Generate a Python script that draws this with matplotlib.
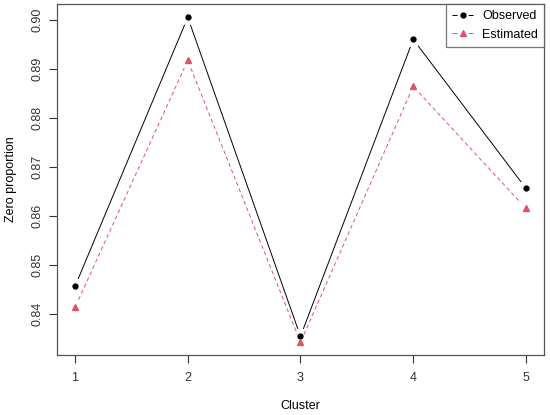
import matplotlib
matplotlib.use("Agg")
import matplotlib.pyplot as plt
import numpy as np
from matplotlib.lines import Line2D

# values
clusters = [1, 2, 3, 4, 5]
observed = [0.8457, 0.9006, 0.8355, 0.8961, 0.8657]
estimated = [0.8414, 0.8918, 0.8343, 0.8865, 0.8616]
y_ticks = [0.84, 0.85, 0.86, 0.87, 0.88, 0.89, 0.90]

RED = "#DF536B"
GAP = 8.5   # pixels left free round each point, like R type="b"
LW = 0.7

plt.rcParams["font.family"] = ["Liberation Sans", "DejaVu Sans"]

fig = plt.figure(figsize=(5.5, 4.15), dpi=100)
ax = fig.add_axes([0.1036, 0.1446, 0.8855, 0.8455])
ax.set_xlim(0.84, 5.16)
ax.set_ylim(0.8317, 0.9033)


def gapped_line(x, y, **kw):
    # draw the joins between points, stopped short of each point
    pts = ax.transData.transform(np.column_stack([x, y]))
    inv = ax.transData.inverted()
    for a, b in zip(pts[:-1], pts[1:]):
        d = b - a
        n = np.hypot(*d)
        if n <= 2 * GAP:
            continue
        u = d / n
        seg = inv.transform(np.array([a + u * GAP, b - u * GAP]))
        ax.plot(seg[:, 0], seg[:, 1], **kw)


gapped_line(clusters, observed, color="black", lw=LW)
gapped_line(clusters, estimated, color=RED, lw=LW, ls=(0, (4, 3)))
ax.plot(clusters, observed, ls="none", marker="o", ms=3.5, color="black")
ax.plot(clusters, estimated, ls="none", marker="^", ms=4.2, color=RED)

ax.set_xticks(clusters)
ax.set_yticks(y_ticks)
ax.set_yticklabels(["%.2f" % v for v in y_ticks], rotation=90, va="center")
ax.tick_params(direction="out", length=6, width=0.8, colors="#333333", labelsize=9, pad=6)
ax.tick_params(axis="y", pad=4)
for s in ax.spines.values():
    s.set_color("#555555")
    s.set_linewidth(0.9)

ax.set_xlabel("Cluster", fontsize=9, labelpad=12)
ax.set_ylabel("Zero proportion", fontsize=9, labelpad=10)

# legend handles: line - point - line, with a gap round the point
fs = 9
hl = 1.7 * fs            # handle length in points
half = hl / 2
g = 4.0                  # half gap in points
h_obs = Line2D([], [], color="black", lw=LW, marker="o", ms=3.5,
               ls=(0, ((half - g) / LW, 2 * g / LW, 100)))
h_est = Line2D([], [], color=RED, lw=LW, marker="^", ms=4.2,
               ls=(0, ((half - g) / LW, 2 * g / LW, 100)))
leg = ax.legend([h_obs, h_est], ["Observed", "Estimated"], loc="upper right",
                fontsize=fs, frameon=True, fancybox=False, borderaxespad=0,
                handlelength=1.7, handletextpad=0.7, borderpad=0.5, labelspacing=0.5)
leg.get_frame().set_edgecolor("#555555")
leg.get_frame().set_linewidth(0.9)

fig.savefig("out.png", dpi=100)
